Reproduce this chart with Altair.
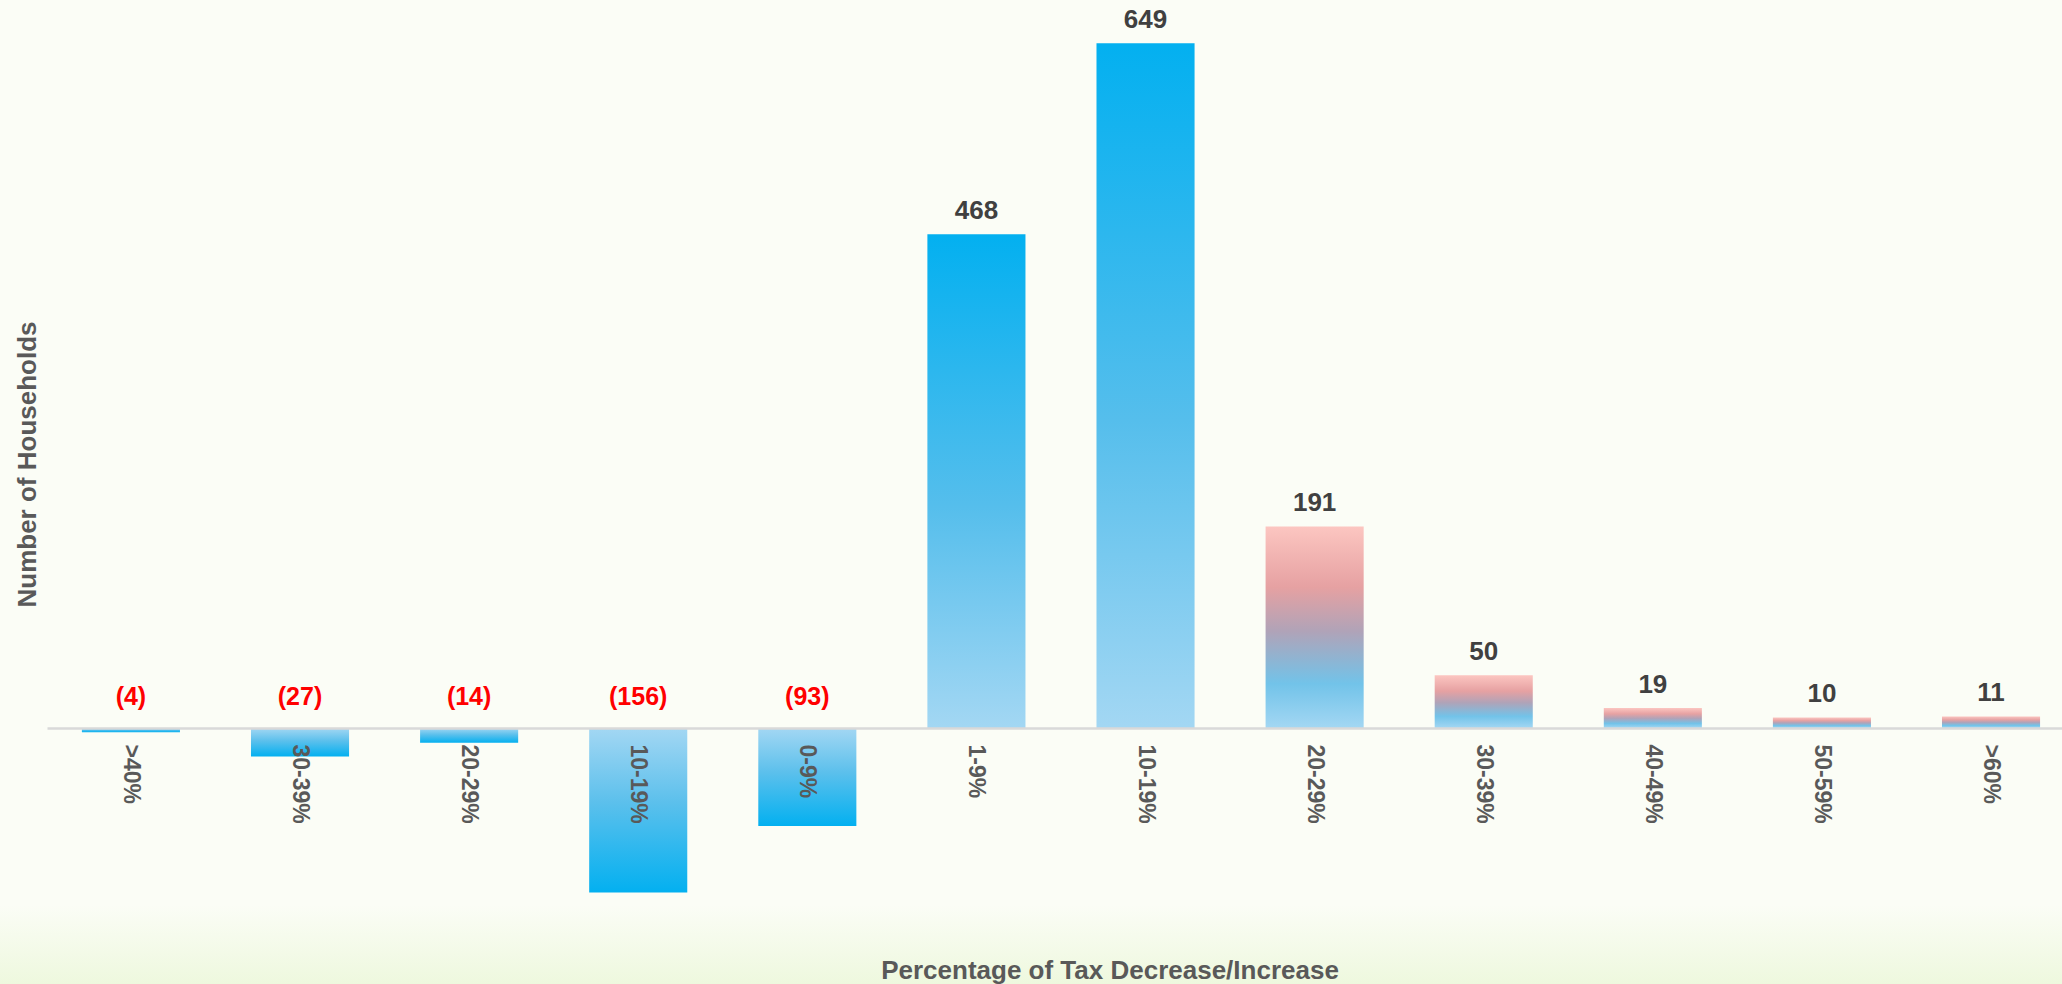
import json
import altair as alt
import pandas as pd

categories = [">40%", "30-39%", "20-29%", "10-19%", "0-9%", "1-9%", "10-19%",
              "20-29%", "30-39%", "40-49%", "50-59%", ">60%"]
households = [-4, -27, -14, -156, -93, 468, 649, 191, 50, 19, 10, 11]
groups = ["decrease"] * 5 + ["increase"] * 2 + ["large increase"] * 5
x_title = "Percentage of Tax Decrease/Increase"
y_title = "Number of Households"

df = pd.DataFrame({
    "idx": list(range(len(categories))),
    "category": categories,
    "households": households,
    "group": groups,
})
df["label"] = [f"({-v})" if v < 0 else str(v) for v in households]

FONT = "Liberation Sans"
W, H = 2015, 939

x_enc = alt.X(
    "idx:O",
    scale=alt.Scale(paddingInner=0.42, paddingOuter=0.168, align=0.614),
    axis=alt.Axis(
        labelExpr=f"{json.dumps(categories)}[datum.value]",
        labelAngle=90,
        labelPadding=16,
        labelFont=FONT,
        labelFontSize=23,
        labelFontWeight="bold",
        labelColor="#595959",
        ticks=False,
        domainColor="#d9d9d9",
        domainWidth=2.5,
        offset=-211,
        zindex=1,
        title=None,
    ),
)
y_enc = alt.Y(
    "households:Q",
    scale=alt.Scale(domain=[-200, 690], nice=False),
    axis=alt.Axis(
        labels=False, ticks=False, domain=False, grid=False,
        title=y_title,
        titleFont=FONT, titleFontSize=26, titleFontWeight="bold",
        titleColor="#595959",
        titleX=-20, titleY=464, titleAngle=-90,
        titleAlign="center", titleBaseline="middle",
    ),
)

def grad(stops):
    return alt.Gradient(
        gradient="linear", x1=0, x2=0, y1=0, y2=1,
        stops=[alt.GradientStop(offset=o, color=c) for o, c in stops],
    )

bg = alt.Chart(pd.DataFrame({"a": [0]})).mark_rect(
    fill=grad([(0, "#fbfdf6"), (1, "#eef8de")])
).encode(
    x=alt.value(-47), x2=alt.value(W), y=alt.value(905), y2=alt.value(984)
)

xtitle = alt.Chart(pd.DataFrame({"t": [x_title]})).mark_text(
    font=FONT, fontSize=26, fontWeight="bold", color="#595959",
    align="center", baseline="alphabetic",
).encode(x=alt.value(1063), y=alt.value(979), text="t:N")

base = alt.Chart(df)

neg_bars = base.transform_filter(alt.datum.group == "decrease").mark_bar(
    fill=grad([(0, "#a3d7f3"), (0.45, "#5cc0ec"), (1, "#03b0f0")])
).encode(x=x_enc, y=y_enc)

inc_bars = base.transform_filter(alt.datum.group == "increase").mark_bar(
    fill=grad([(0, "#03b0f0"), (0.55, "#55beec"), (1, "#a3d7f3")])
).encode(x=x_enc, y=y_enc)

big_bars = base.transform_filter(alt.datum.group == "large increase").mark_bar(
    fill=grad([(0, "#fcc6c1"), (0.3, "#e6a1a2"), (0.52, "#b0a3b8"),
               (0.78, "#72c3e9"), (1, "#a3d7f3")])
).encode(x=x_enc, y=y_enc)

pos_text = base.transform_filter(alt.datum.households >= 0).mark_text(
    font=FONT, fontSize=26, fontWeight="bold", color="#404040",
    baseline="alphabetic", dy=-15,
).encode(x=x_enc, y=y_enc, text="label:N")

neg_text = base.transform_filter(alt.datum.households < 0).mark_text(
    font=FONT, fontSize=25, fontWeight="bold", color="#ff0000",
    baseline="alphabetic", dy=-23,
).encode(x=x_enc, y=alt.datum(0), text="label:N")

chart = alt.layer(bg, neg_bars, inc_bars, big_bars, pos_text, neg_text, xtitle).properties(
    width=W, height=H,
    background="#fbfdf6",
    padding={"left": 47, "top": 0, "right": 0, "bottom": 45},
    autosize=alt.AutoSizeParams(type="none"),
).configure_view(stroke=None)

chart.save("out.html", embed_options={"renderer": "svg", "actions": False})
